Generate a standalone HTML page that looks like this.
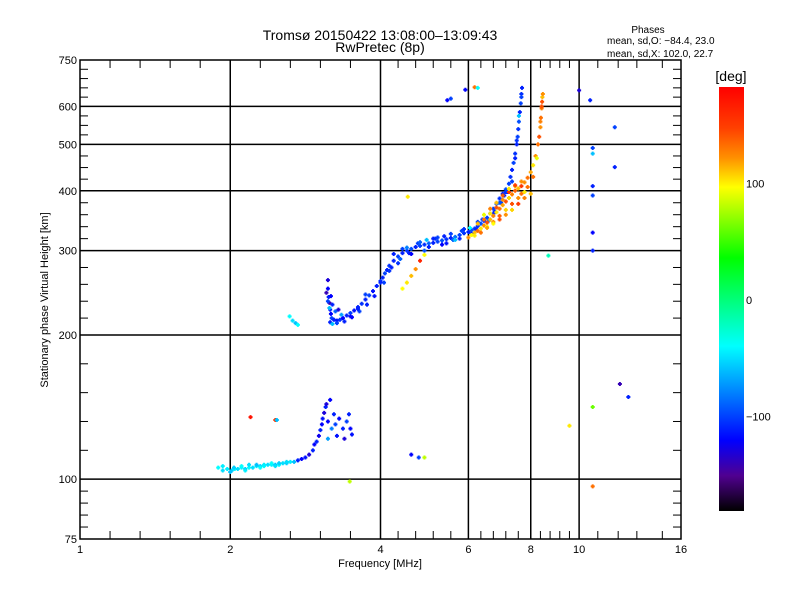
<!DOCTYPE html>
<html><head><meta charset="utf-8"><style>
body{margin:0;background:#fff;}
svg{display:block;font-family:"Liberation Sans",sans-serif;}
</style></head><body>
<svg id="chart" width="800" height="600" viewBox="0 0 800 600" xmlns="http://www.w3.org/2000/svg">
<defs>
<linearGradient id="cbar" x1="0" y1="1" x2="0" y2="0">
<stop offset="0" stop-color="#000000"/>
<stop offset="0.083" stop-color="#500090"/>
<stop offset="0.167" stop-color="#0000ff"/>
<stop offset="0.278" stop-color="#0080ff"/>
<stop offset="0.389" stop-color="#00ffff"/>
<stop offset="0.597" stop-color="#00ff00"/>
<stop offset="0.764" stop-color="#ffff00"/>
<stop offset="0.833" stop-color="#ff9000"/>
<stop offset="0.903" stop-color="#ff4000"/>
<stop offset="1" stop-color="#ff0000"/>
</linearGradient>
</defs>
<text x="380" y="40" font-size="14" text-anchor="middle">Tromsø 20150422 13:08:00–13:09:43</text>
<text x="380" y="52" font-size="14" text-anchor="middle">RwPretec (8p)</text>
<text x="648" y="33" font-size="10" text-anchor="middle">Phases</text>
<text x="607" y="44" font-size="10">mean, sd,O: −84.4, 23.0</text>
<text x="607" y="57" font-size="10">mean, sd,X: 102.0, 22.7</text>
<g id="grid"></g>
<g id="axes"></g>
<g id="points"></g>
<rect x="80" y="60" width="601" height="479" fill="none" stroke="#000" stroke-width="1.5"/>
<text x="380" y="567" font-size="11" text-anchor="middle">Frequency [MHz]</text>
<text x="48" y="300" font-size="11" text-anchor="middle" transform="rotate(-90 48 300)">Stationary phase Virtual Height [km]</text>
<rect x="719" y="87" width="25" height="424" fill="url(#cbar)"/>
<text x="731" y="81" font-size="14" text-anchor="middle">[deg]</text>
<g id="cbticks"></g>
</svg>
<script>
const NS="http://www.w3.org/2000/svg";
const xMajors=[1,2,4,6,8,10,16];
const xMinors=[1.2,1.4,1.6,1.8,2.4,2.8,3.2,3.6,4.4,4.8,5.2,5.6,6.4,6.8,7.2,7.6,8.4,8.8,9.2,9.6,11.1,12.3,13.4,14.9];
const xGrid=[2,4,6,8,10];
const yMajors=[75,100,200,300,400,500,600,750];
const yMinors=[80,85,90,95,120,140,160,180,220,240,260,280,320,340,360,380,425,450,475,525,550,575,630,660,690,720];
const yGrid=[100,200,300,400,500,600];
const cbTicks=[100,0,-100];

const oFreq=[3.30,3.30,3.31,3.32,3.33,3.34,3.35,3.38,3.42,3.46,3.50,3.55,3.60,3.65,3.70,3.75,3.80,3.85,3.90,3.95,4.0,4.05,4.1,4.15,4.2,4.3,4.4,4.5,4.6,4.7,4.8,4.9,5.0,5.1,5.2,5.3,5.4,5.5,5.6,5.7,5.8,5.9,6.0,6.1,6.2,6.3,6.4,6.5,6.6,6.7,6.8,6.9,7.0,7.1,7.2,7.3,7.35,7.4,7.45,7.5,7.55,7.58,7.6,7.62,7.65,7.68,7.7,7.72];
const oHeight=[265,255,245,238,230,225,220,218,217,218,220,223,226,229,233,237,242,247,252,258,264,268,273,277,282,288,293,297,300,303,306,308,310,312,313,315,317,319,321,323,326,329,331,334,337,341,345,350,355,362,370,378,387,395,403,415,430,445,460,480,500,520,540,560,585,610,640,660];
const oPhase=[-130,-120,-110,-140,-110,-120,-100,-110,-115,-105,-120,-110,-100,-115,-110,-105,-110,-100,-115,-110,-105,-110,-100,-110,-105,-110,-100,-110,-105,-95,-110,-100,-105,-90,-110,-100,-95,-105,-110,-85,-100,-105,-110,-95,-100,-105,-95,-110,-100,-105,-100,-90,-105,-110,-95,-100,-105,-110,-100,-105,-110,-100,-105,-95,-110,-100,-105,-110];

const o2Freq=[3.28,3.30,3.32,3.34,3.36,3.40,3.44,3.48,3.33,3.36,3.42,3.52,3.62,3.72,3.82,3.92,4.08,4.25,4.45,4.65,4.85,5.05,5.25,5.45,5.65,5.85,6.05,6.25,6.45,6.65,6.85,7.05,7.25,7.4,7.5,7.55,7.62,7.7];
const o2Height=[250,240,232,246,236,228,230,224,215,213,214,216,221,228,236,246,262,280,290,297,312,318,320,324,318,333,338,336,352,350,365,380,398,420,470,510,575,630];
const o2Phase=[-140,-100,-60,-120,-110,-90,-130,-70,-110,-60,-100,-110,-120,-100,-110,-115,-100,-110,-90,-110,-100,-60,-105,-110,-90,-100,-40,-110,-100,-80,-110,-100,-110,-100,-110,-105,-60,-100];

const o3Freq=[4.3,4.5,4.7,4.9,5.1,5.3,5.5,5.7,5.9,6.1,6.3,5.0,5.2,5.4,5.6,5.8,4.4,4.6,3.6,3.7,3.8,4.0,4.2,6.6,6.8,7.0,7.2,7.15,7.25];
const o3Height=[296,303,296,314,306,322,312,318,336,328,348,300,320,310,328,320,285,305,222,231,248,262,276,347,362,380,398,392,400];
const o3Phase=[-110,-100,-120,-90,-110,-100,-115,-60,-105,-110,-100,-95,-110,-120,-100,-110,-105,-80,-120,-110,-100,-110,-105,-100,-110,-95,-105,-110,-100];

const xFreq=[4.5,4.6,4.7,4.8,4.9,5.0,6.0,6.1,6.2,6.3,6.4,6.5,6.6,6.7,6.8,6.9,7.0,7.1,7.2,7.3,7.4,7.5,7.6,7.7,7.8,7.9,8.0,8.1,8.2,8.3,8.35,8.4,8.42,8.45,8.47,8.48,8.5];
const xHeight=[255,262,270,278,288,295,322,326,330,333,337,342,347,352,358,364,370,376,382,388,394,400,405,410,418,428,440,455,475,500,520,545,570,595,615,630,640];
const xPhase=[95,100,110,120,160,95,120,95,110,130,100,120,140,110,125,100,130,115,140,105,125,135,110,150,120,130,115,100,120,130,140,120,130,125,140,110,120];

const x2Freq=[6.3,6.5,6.7,6.9,7.1,7.3,7.5,7.7,6.6,6.8,7.0,7.2,7.4,7.6,7.8,8.1,8.25,8.4,8.45];
const x2Height=[345,352,362,372,385,398,410,395,340,348,358,368,378,388,398,430,470,560,600];
const x2Phase=[110,130,100,140,120,150,110,130,95,120,135,105,140,120,100,130,90,125,140];

const x3Freq=[6.2,6.4,6.6,6.8,7.0,7.2,7.4,7.6,7.8,6.9,7.1,7.3,7.5,7.7,7.9,8.0,6.5,6.7];
const x3Height=[325,330,338,345,352,360,368,378,388,380,392,404,412,420,408,395,360,370];
const x3Phase=[100,130,115,95,140,120,105,150,125,110,135,100,145,120,130,110,90,125];

const eFreq=[1.92,1.95,1.98,2.02,2.06,2.1,2.15,2.2,2.25,2.3,2.35,2.4,2.45,2.5,2.55,2.6,2.65,2.7,2.75,2.8,2.85,2.9,2.95,3.0,3.05,3.1,3.12,3.15,3.18,3.2,3.22,3.23,3.25,3.27,3.3,3.35,3.38,3.4,3.42,3.45,3.5,3.52,3.55,3.58,3.6,3.62,3.3,3.28,3.33];
const eHeight=[108,106,107,106,107,107,108,107,108,108,109,109,109,110,110,110,110,111,111,112,112,113,114,115,117,120,124,126,130,134,138,142,146,150,140,135,145,138,130,142,135,128,140,145,135,131,128,152,155];
const ePhase=[-40,-50,-45,-55,-40,-50,-45,-55,-40,-50,-45,-55,-40,-50,-45,-60,-40,-50,-55,-45,-60,-110,-120,-115,-130,-110,-120,-110,-125,-110,-120,-115,-130,-110,-120,-80,-110,-100,-115,-120,-110,-130,-100,-110,-120,-115,-70,-130,-120];

const e2Freq=[1.95,2.05,2.15,2.25,2.35,2.45,2.55,2.65,2.75,2.0,2.2,2.4,2.6];
const e2Height=[109,108,109,110,110,110,111,111,112,105,106,108,109];
const e2Phase=[-45,-55,-40,-50,-60,-45,-40,-55,-50,-60,-45,-40,-50];

const sFreq=[5.93,6.2,6.3,5.52,5.6,4.62,8.73,10.65,10.8,10.8,10.8,10.8,10.8,10.8,10.0,12.1,12.1,12.4,12.9,10.8,9.6,10.8,3.59,4.7,4.87,5.0,2.79,2.83,2.87,2.9,2.27,2.6,2.62];
const sHeight=[654,662,660,620,625,390,294,620,492,480,410,392,330,300,652,545,451,166,157,150,137,97,99,117,115,115,222,217,214,212,143,141,141];
const sPhase=[-120,130,-40,-120,-100,100,-20,-110,-100,-60,-110,-100,-120,-110,-130,-100,-110,-140,-110,60,100,130,80,-120,-100,80,-40,-50,-60,-40,170,150,-60];

const xMajPx=xMajors.map(v=>80+150.25*Math.log2(v));
const yMajPx=yMajors.map(v=>539-479*Math.log10(v/75));
function piece(v,vals,px){
  for(let i=0;i<vals.length-1;i++){
    if(v<=vals[i+1]||i===vals.length-2){
      return px[i]+(v-vals[i])/(vals[i+1]-vals[i])*(px[i+1]-px[i]);
    }
  }
}
function xScale(f){return piece(f,xMajors,xMajPx);}
function yScale(h){return piece(h,yMajors,yMajPx);}

const stops=[[-180,[0,0,0]],[-150,[80,0,144]],[-120,[0,0,255]],[-80,[0,128,255]],[-40,[0,255,255]],[35,[0,255,0]],[95,[255,255,0]],[120,[255,144,0]],[145,[255,64,0]],[180,[255,0,0]]];
function color(p){
  p=Math.max(-180,Math.min(180,p));
  for(let i=0;i<stops.length-1;i++){
    if(p<=stops[i+1][0]){
      const t=(p-stops[i][0])/(stops[i+1][0]-stops[i][0]);
      const c=stops[i][1].map((a,k)=>Math.round(a+t*(stops[i+1][1][k]-a)));
      return `rgb(${c[0]},${c[1]},${c[2]})`;
    }
  }
  return "rgb(255,0,0)";
}
function mk(tag,attrs,parent){
  const e=document.createElementNS(NS,tag);
  for(const k in attrs)e.setAttribute(k,attrs[k]);
  parent.appendChild(e);return e;
}
const grid=document.getElementById('grid');
const axes=document.getElementById('axes');
const pts=document.getElementById('points');
const cbt=document.getElementById('cbticks');

xGrid.forEach(v=>{
  const x=xScale(v);
  const l=mk('line',{x1:x,x2:x,y1:60,y2:539,stroke:'#000','stroke-width':1.5},grid);
  
  
});
yGrid.forEach(v=>{
  const y=yScale(v);
  const l=mk('line',{x1:80,x2:681,y1:y,y2:y,stroke:'#000','stroke-width':1.5},grid);
  
  
});
xMinors.forEach(v=>{
  const x=xScale(v);
  const a=mk('line',{x1:x,x2:x,y1:539,y2:531,stroke:'#000','stroke-width':1},axes);
  
  
  const b=mk('line',{x1:x,x2:x,y1:60,y2:68,stroke:'#000','stroke-width':1},axes);
  
  
});
xMajors.forEach(v=>{
  const t=mk('text',{x:xScale(v),y:553,'font-size':11,'text-anchor':'middle'},axes);
  t.textContent=v;
  
  
});
yMinors.forEach(v=>{
  const y=yScale(v);
  const a=mk('line',{x1:80,x2:88,y1:y,y2:y,stroke:'#000','stroke-width':1},axes);
  
  
  const b=mk('line',{x1:673,x2:681,y1:y,y2:y,stroke:'#000','stroke-width':1},axes);
  
  
});
yMajors.forEach(v=>{
  const t=mk('text',{x:77,y:yScale(v)+4,'font-size':11,'text-anchor':'end'},axes);
  t.textContent=v;
  
  
});
cbTicks.forEach(v=>{
  const y=300-v*1.165;
  const t=mk('text',{x:746,y:y+4,'font-size':11},cbt);
  t.textContent=v<0?'−'+Math.abs(v):String(v);
  
  
});
function plot(F,H,P,name){
  for(let i=0;i<F.length;i++){
    const x=xScale(F[i]),y=yScale(H[i]);
    const p=mk('path',{d:`M${x-2} ${y}h4M${x} ${y-2}v4`,stroke:color(P[i]),'stroke-width':2,fill:'none'},pts);
    
    
  }
}
plot(eFreq,eHeight,ePhase,'e-layer-echo');
plot(e2Freq,e2Height,e2Phase,'e-layer-echo');
plot(oFreq,oHeight,oPhase,'o-mode-echo');
plot(o2Freq,o2Height,o2Phase,'o-mode-echo');
plot(o3Freq,o3Height,o3Phase,'o-mode-echo');
plot(xFreq,xHeight,xPhase,'x-mode-echo');
plot(x2Freq,x2Height,x2Phase,'x-mode-echo');
plot(x3Freq,x3Height,x3Phase,'x-mode-echo');
plot(sFreq,sHeight,sPhase,'scatter-echo');
</script>
</body></html>
